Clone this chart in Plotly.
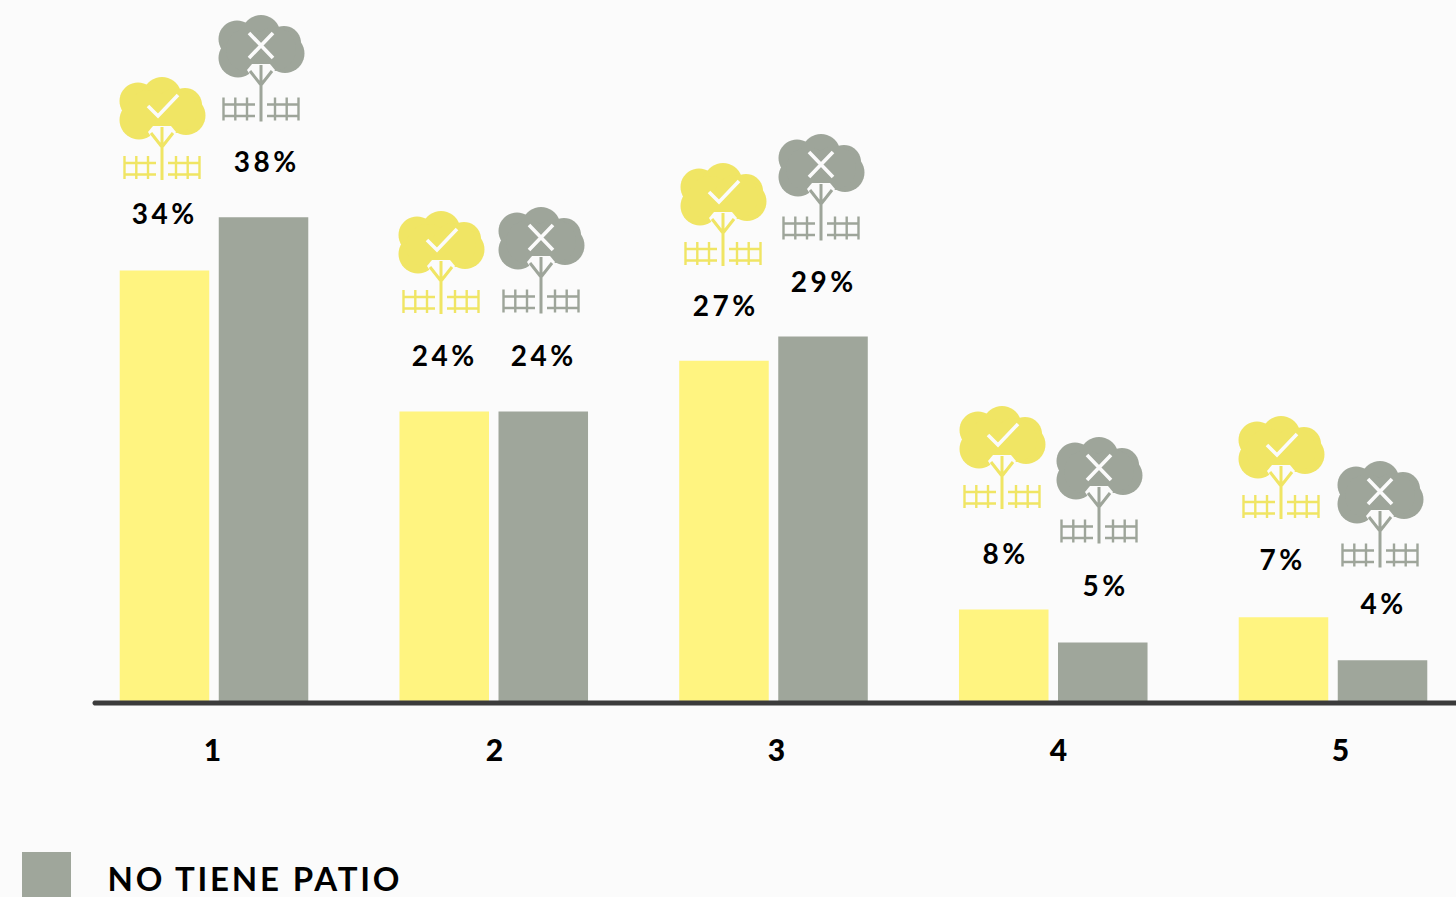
import math
import plotly.graph_objects as go

W, H = 1456, 897
BG = "#FBFBFB"
YEL_BAR, GRY_BAR = "#FFF480", "#9FA69B"
YEL_ICON, GRY_ICON = "#F0E564", "#9EA59A"
INK = "#000000"

categories = ["1", "2", "3", "4", "5"]
tiene_patio = [33.9, 22.8, 26.8, 7.2, 6.6]
no_tiene_patio = [38.1, 22.8, 28.7, 4.6, 3.2]
labels_tiene = ["34%", "24%", "27%", "8%", "7%"]
labels_no = ["38%", "24%", "29%", "5%", "4%"]

# layout helpers (pixel positions of decoration, not data)
label_x_tiene = [164, 444, 725, 1005, 1282]
label_x_no = [266, 543, 823, 1105, 1383]
label_lift_tiene = [57.5, 56, 56, 57, 58]
label_lift_no = [56, 56, 56, 57.5, 57]
icon_x_tiene = [162, 441, 723, 1002, 1281]
icon_x_no = [261, 541, 821, 1099, 1380]
icon_top_tiene = [77, 211, 163, 406, 416]
icon_top_no = [15, 207, 134, 437, 461]
LOBES = [(0, 19.5, 19.5), (-24, 24, 18.5), (23, 28, 17), (-23, 43, 19.5), (24, 38.5, 19.5),
         (0, 36, 20), (-13, 35, 22), (13, 34, 22)]


def poly(pts, close=False):
    d = "M" + "L".join(f"{x:.2f} {-y:.2f}" for x, y in pts)
    return d + ("Z" if close else "")


def circ(cx, cy, r, n=40):
    return poly([(cx + r * math.cos(2 * math.pi * i / n), cy + r * math.sin(2 * math.pi * i / n))
                 for i in range(n)], True)


def anchored(path, ax, ay, fill=None, line=None, width=0):
    return dict(
        type="path", path=path, layer="above",
        xref="paper", yref="paper", xsizemode="pixel", ysizemode="pixel",
        xanchor=ax / W, yanchor=1 - ay / H,
        fillcolor=fill if fill else "rgba(0,0,0,0)",
        line=dict(color=line if line else "rgba(0,0,0,0)", width=width),
    )


def icon(cx, top, color, check, low):
    wedge = poly([(-9, 49), (9, 49), (14, 55), (7, 66), (-7, 66), (-14, 55)], True)
    trunk = poly([(0, 50), (0, 103 + low)]) + poly([(-11, 56), (0, 70), (11, 56)])
    fence = ""
    for sx in (-1, 1):
        for px in (14, 25.7, 37.5):
            fence += poly([(sx * px, 79 + low), (sx * px, 102 + low)])
        for ry in (86, 97.5):
            fence += poly([(sx * 6, ry + low), (sx * 38.5, ry + low)])
    if check:
        mark = poly([(-14, 29), (-4, 39), (16, 18)])
    else:
        mark = poly([(-12, 18), (12, 43)]) + poly([(12, 18), (-12, 43)])
    parts = [anchored(circ(*l), cx, top, fill=color) for l in LOBES]
    return parts + [
        anchored(wedge, cx, top, fill=BG),
        anchored(trunk, cx, top, line=color, width=3),
        anchored(fence, cx, top, line=color, width=2.4),
        anchored(mark, cx, top, line=BG, width=3.6),
    ]


fig = go.Figure()
fig.add_bar(x=categories, y=tiene_patio, name="TIENE PATIO", marker=dict(color=YEL_BAR, line_width=0))
fig.add_bar(x=categories, y=no_tiene_patio, name="NO TIENE PATIO", marker=dict(color=GRY_BAR, line_width=0))
# carrier of the tick axis, whose labels sit slightly apart from the bar groups
fig.add_scatter(x=categories, y=[0] * 5, xaxis="x2", mode="markers",
                marker=dict(opacity=0, size=1), showlegend=False, hoverinfo="skip")

shapes = []
for cx, top in zip(icon_x_tiene, icon_top_tiene):
    shapes += icon(cx, top, YEL_ICON, True, 0)
for cx, top in zip(icon_x_no, icon_top_no):
    shapes += icon(cx, top, GRY_ICON, False, 3.5)
# baseline with rounded left end
cap = [(95 - 2.5 * math.sin(math.pi * i / 12), 703 + 2.5 * math.cos(math.pi * i / 12)) for i in range(13)]
shapes.append(anchored(poly([(1460, 700.5), (1460, 705.5)] + cap, True), 0, 0, fill="#3B3B3B"))
# legend swatch
shapes.append(dict(type="rect", xref="paper", yref="paper", x0=22 / W, x1=71 / W,
                   y0=0, y1=1 - 852 / H, fillcolor=GRY_BAR, line_width=0, layer="above"))

LABEL_FONT = dict(family="Lato", size=28, color=INK, weight=700)
annotations = []
for xs, vals, texts, lifts in ((label_x_tiene, tiene_patio, labels_tiene, label_lift_tiene),
                               (label_x_no, no_tiene_patio, labels_no, label_lift_no)):
    for px, v, t, lift in zip(xs, vals, texts, lifts):
        annotations.append(dict(xref="paper", yref="y", x=px / W, y=v, yshift=lift, text=t,
                                showarrow=False, xanchor="center", yanchor="middle", font=LABEL_FONT))
annotations.append(dict(xref="paper", yref="paper", x=255.5 / W, y=1 - 878 / H, text="NO TIENE PATIO",
                        showarrow=False, xanchor="center", yanchor="middle",
                        font=dict(family="Lato", size=33, color=INK, weight=700)))

PX_Y = 12.7
BASE = 701
PITCH = 279.75
fig.update_layout(
    width=W, height=H, margin=dict(l=0, r=0, t=0, b=0, pad=0, autoexpand=False),
    paper_bgcolor=BG, plot_bgcolor=BG, showlegend=False, hovermode=False,
    barmode="group", bargap=0.292, bargroupgap=0.096,
    shapes=shapes, annotations=annotations,
    xaxis=dict(type="category", range=[-214 / PITCH, (W - 214) / PITCH], domain=[0, 1],
               showticklabels=False, showgrid=False, zeroline=False, showline=False, ticks="", fixedrange=True),
    xaxis2=dict(type="category", overlaying="x", anchor="y", side="bottom",
                range=[-212.5 / 282, (W - 212.5) / 282], domain=[0, 1],
                showgrid=False, zeroline=False, showline=False, ticks="", ticklen=0, ticklabelstandoff=29,
                tickfont=dict(family="Lato", size=30, color=INK, weight=900), fixedrange=True),
    yaxis=dict(range=[0, BASE / PX_Y], domain=[1 - BASE / H, 1], visible=False, fixedrange=True),
)

POST = """
document.documentElement.style.margin='0';
document.body.style.margin='0';
document.body.style.background='%s';
document.body.style.overflow='hidden';
document.querySelectorAll('.annotation-text').forEach(function(t){
  t.style.letterSpacing = t.textContent.indexOf('PATIO')>=0 ? '2.8px' : '3.5px';
});
""" % BG
fig.write_html("out.html", config=dict(displayModeBar=False), post_script=POST)
